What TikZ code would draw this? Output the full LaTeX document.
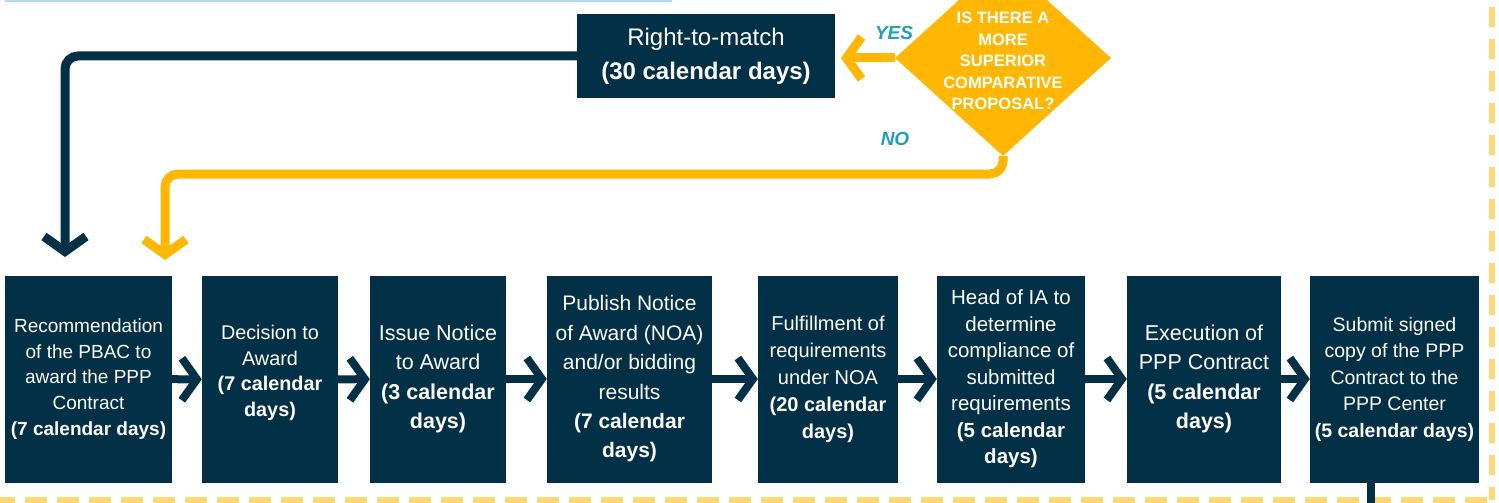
\documentclass[tikz,border=0pt]{standalone}
\usepackage{fontspec}
\setmainfont{Liberation Sans}
\definecolor{MyNavy}{HTML}{023047}
\definecolor{MyYellow}{HTML}{FFB703}
\definecolor{MyTeal}{HTML}{219EBC}
\definecolor{MyLightBlue}{HTML}{8ECAE6}
\usetikzlibrary{arrows.meta, shapes.geometric}
\tikzset{
	phase/.style={fill=MyNavy, text=white, align=center, inner sep=0pt, minimum height=207pt},
	fs/.style 2 args={font=\fontsize{#1}{#2}\selectfont},
	flow/.style={MyNavy, line width=8pt, -{Straight Barb[length=15pt, width=42pt]}},
	loop/.style={line width=9pt, rounded corners=13pt, -{Straight Barb[length=15pt, width=42pt]}},
	decision/.style={diamond, fill=MyYellow, inner sep=0pt, minimum width=216pt, minimum height=196pt},
	answer/.style={text=MyTeal, font=\fontsize{19}{22}\selectfont\bfseries\itshape}
}

\begin{document}
\begin{tikzpicture}[x=1pt, y=-1pt]
		\useasboundingbox (0,0) rectangle (1499,503);
		
		% frame left over from the previous part
		\draw[MyLightBlue!70, line width=2.5pt] (5,1) -- (672,1);
		\draw[MyYellow!55, line width=6pt, dash pattern=on 22pt off 10pt, dash phase=7pt] (0,500) -- (1492,500);
		\draw[MyYellow!55, line width=6pt, dash pattern=on 20pt off 12pt] (1492,7) -- (1492,500);
		
		% main row
		\node[phase, fs={19}{25.7}, minimum width=167pt] (b1) at (88.5,379) {Recommendation\\of the PBAC to\\award the PPP\\Contract\\\textbf{(7 calendar days)}};
		\node[phase, fs={19.8}{25.5}, minimum width=136pt] (b2) at (270,379.5) {Decision to\\Award\\\textbf{(7 calendar}\\\textbf{days)}\\[-8pt]};
		\node[phase, fs={21.5}{29.5}, minimum width=136pt] (b3) at (438,379) {Issue Notice\\to Award\\\textbf{(3 calendar}\\\textbf{days)}};
		\node[phase, fs={21}{29.4}, minimum width=165pt] (b4) at (629.5,379) {Publish Notice\\of Award (NOA)\\and/or bidding\\results\\\textbf{(7 calendar}\\\textbf{days)}};
		\node[phase, fs={20}{27}, minimum width=140pt] (b5) at (828,379) {Fulfillment of\\requirements\\under NOA\\\textbf{(20 calendar}\\\textbf{days)}};
		\node[phase, fs={20.5}{26.5}, minimum width=148pt] (b6) at (1011,379) {Head of IA to\\determine\\compliance of\\submitted\\requirements\\\textbf{(5 calendar}\\\textbf{days)}};
		\node[phase, fs={21.5}{29.5}, minimum width=154pt] (b7) at (1204,379) {Execution of\\PPP Contract\\\textbf{(5 calendar}\\\textbf{days)}};
		\node[phase, fs={19.5}{26.5}, minimum width=169pt] (b8) at (1394.5,379) {Submit signed\\copy of the PPP\\Contract to the\\PPP Center\\\textbf{(5 calendar days)}};
		
		\draw[flow] (b1) -- (b2);
		\draw[flow] (b2) -- (b3);
		\draw[flow] (b3) -- (b4);
		\draw[flow] (b4) -- (b5);
		\draw[flow] (b5) -- (b6);
		\draw[flow] (b6) -- (b7);
		\draw[flow] (b7) -- (b8);
		
		\coordinate (exit) at (1371,510);
		\draw[MyNavy, line width=8pt] (b8.south -| exit) -- (exit);
		
		% top part
		\node[phase, fs={24}{34}, minimum width=258pt, minimum height=84pt] (rtm) at (706,56) {Right-to-match\\\textbf{(30 calendar days)}};
		\node[decision] (q) at (1003,58) {};
		\node[text=white, align=center, font=\fontsize{16.5}{21.5}\selectfont\bfseries] at ([yshift=-3pt]q) {IS THERE A\\MORE\\SUPERIOR\\COMPARATIVE\\PROPOSAL?};
		
		\coordinate (yestip) at (841,58);
		\coordinate (rtmin) at (65,257);
		\coordinate (noin) at (165,260);
		
		\draw[MyYellow, line width=9pt, -{Straight Barb[length=15pt, width=42pt]}] (q.west) -- (yestip);
		\draw[loop, MyNavy] (rtm.west) -| (rtmin);
		\draw[loop, MyYellow] (q.south) |- (noin |- 0,174) -- (noin);
		
		\node[answer] (yes) at (894,33) {YES};
		\node[answer] (no) at (895,139) {NO};
	\end{tikzpicture}
\end{document}
